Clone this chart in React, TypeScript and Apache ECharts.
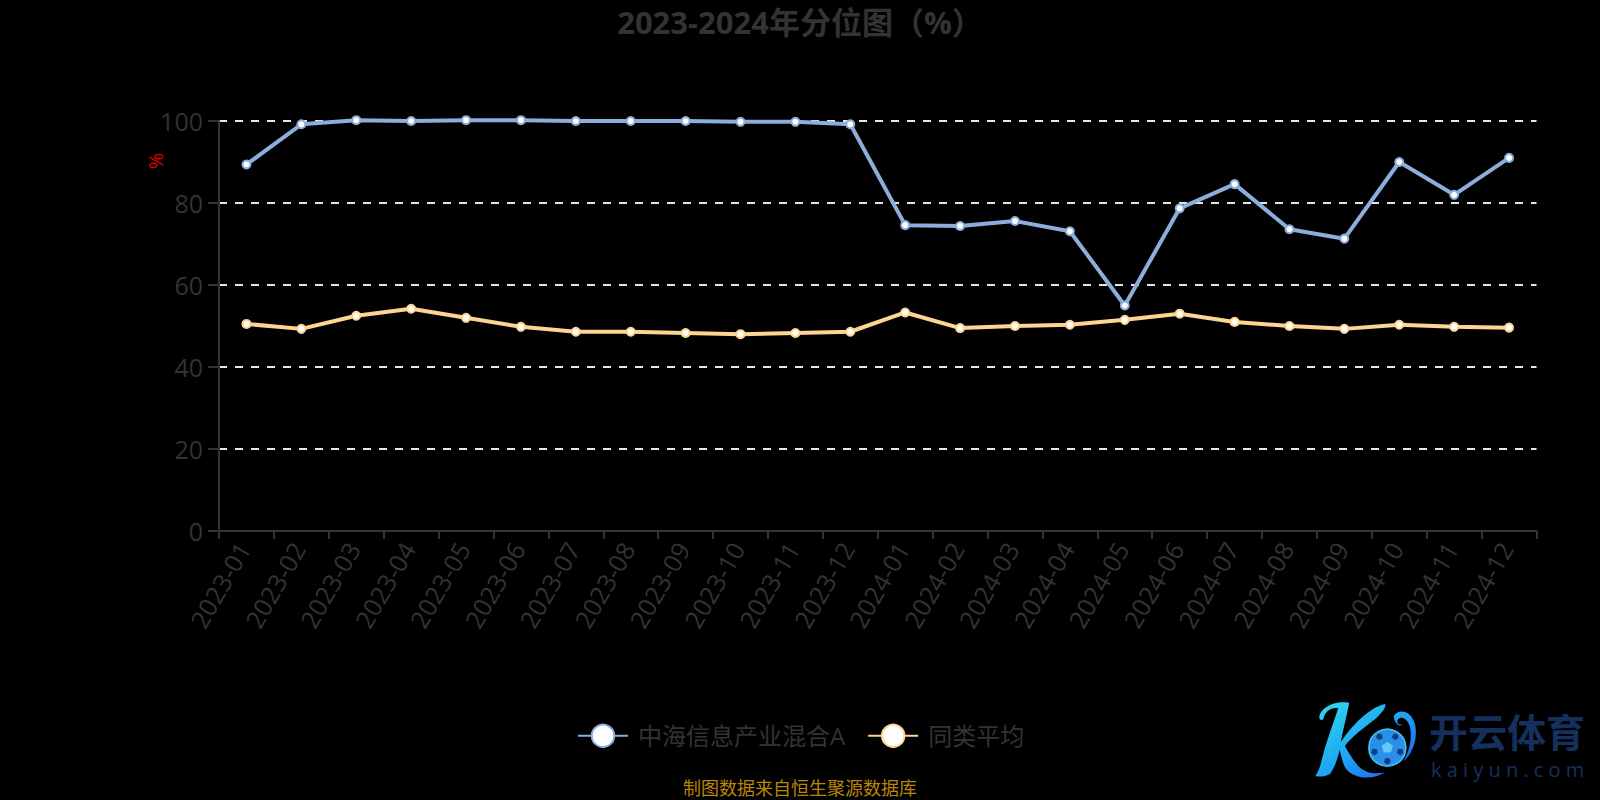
import React, { useEffect, useRef } from "react";
import * as echarts from "echarts";

const months = ["2023-01","2023-02","2023-03","2023-04","2023-05","2023-06","2023-07","2023-08","2023-09","2023-10","2023-11","2023-12","2024-01","2024-02","2024-03","2024-04","2024-05","2024-06","2024-07","2024-08","2024-09","2024-10","2024-11","2024-12"];
const fundValues = [89.4,99.2,100.2,100.0,100.2,100.2,100.0,100.0,100.0,99.8,99.8,99.2,74.6,74.4,75.6,73.1,55.0,78.7,84.6,73.6,71.3,90.0,82.0,91.0];
const peerValues = [50.5,49.3,52.5,54.2,52.0,49.8,48.6,48.6,48.3,48.0,48.3,48.6,53.3,49.5,50.0,50.3,51.5,53.0,51.0,50.0,49.3,50.3,49.8,49.6];
const fundName = "中海信息产业混合A";
const peerName = "同类平均";
const titleText = "2023-2024年分位图（%）";
const sourceText = "制图数据来自恒生聚源数据库";
const FONT = '"Open Sans", "Noto Sans CJK SC", sans-serif';

const kD = "M148 112 C150 85 190 60 238 68 C230 110 214 170 208 215 C200 250 188 272 180 282 C165 290 150 292 136 288 C146 275 152 255 158 230 C168 190 190 130 205 85 C190 80 165 90 160 118 C155 122 148 120 148 112 Z M345 72 C352 80 335 100 315 118 C285 142 245 170 225 198 C235 215 248 240 265 258 C285 278 310 284 345 278 C310 300 250 300 225 262 C215 240 212 215 205 198 C235 150 290 85 345 72 Z M372 108 C385 85 425 90 436 135 C445 180 425 225 400 245 C418 215 428 175 420 140 C412 115 395 108 385 118 C378 125 385 138 396 132 C392 145 372 130 372 108 Z";
echarts.graphic.registerShape("kLogoPath", echarts.graphic.extendPath(kD, {}) as any);

const pentagon = (cx: number, cy: number, r: number, rot: number) =>
  Array.from({ length: 5 }, (_, i) => {
    const a = rot + (i * Math.PI * 2) / 5;
    return [cx + r * Math.cos(a), cy + r * Math.sin(a)];
  });

export default function App() {
  const ref = useRef<HTMLDivElement>(null);
  useEffect(() => {
    document.body.style.margin = "0";
    document.body.style.background = "#000";
    const chart = echarts.init(ref.current!, undefined, { renderer: "svg" });
    const s = 1 / 3;
    const bx = 1270 + 352 * s;
    const by = 680 + 203 * s;
    const labelColor = "#333333";
    chart.setOption({
      animation: false,
      backgroundColor: "#000000",
      title: {
        text: titleText,
        left: "center",
        top: 1,
        textStyle: { color: "#333333", fontSize: 31, fontWeight: "bold", fontFamily: FONT },
      },
      legend: {
        bottom: 47,
        left: 572,
        itemWidth: 50,
        itemHeight: 28,
        itemGap: 22,
        lineStyle: { width: 2 },
        textStyle: { color: labelColor, fontSize: 24, fontFamily: FONT, padding: [0, 0, 0, 5] },
        data: [{ name: fundName }, { name: peerName }],
      },
      grid: { left: 219, right: 63.5, top: 121, bottom: 269 },
      xAxis: {
        type: "category",
        data: months,
        boundaryGap: true,
        axisLine: { show: true, lineStyle: { color: labelColor, width: 2 } },
        axisTick: { show: true, alignWithLabel: false, length: 8, lineStyle: { color: labelColor, width: 2 } },
        axisLabel: { color: labelColor, fontSize: 25, rotate: 60, interval: 0, margin: 8, padding: [0, 6, 0, 0], fontFamily: FONT },
      },
      yAxis: {
        type: "value",
        min: 0,
        max: 100,
        interval: 20,
        axisLine: { show: true, lineStyle: { color: labelColor, width: 2 } },
        axisTick: { show: true, length: 11, lineStyle: { color: labelColor, width: 2 } },
        axisLabel: { color: labelColor, fontSize: 25, margin: 16, fontFamily: FONT, padding: [0, 0, 18, 0] },
        splitLine: { show: true, lineStyle: { color: "#e6e6e6", type: [8, 8], width: 2 } },
      },
      series: [
        {
          name: fundName,
          type: "line",
          data: fundValues,
          clip: false,
          symbol: "circle",
          symbolSize: 8,
          showAllSymbol: true,
          lineStyle: { color: "#8caedd", width: 4 },
          itemStyle: { color: "#ffffff", borderColor: "#8caedd", borderWidth: 2 },
        },
        {
          name: peerName,
          type: "line",
          data: peerValues,
          clip: false,
          symbol: "circle",
          symbolSize: 8,
          showAllSymbol: true,
          lineStyle: { color: "#fdd592", width: 4 },
          itemStyle: { color: "#ffffff", borderColor: "#fdd592", borderWidth: 2 },
        },
      ],
      graphic: [
        {
          type: "text",
          x: 155,
          y: 161,
          rotation: Math.PI / 2,
          style: { text: "%", fill: "#dd0000", font: `20px ${FONT}`, textAlign: "center", textVerticalAlign: "middle" },
        },
        {
          type: "text",
          x: 800,
          y: 788,
          style: { text: sourceText, fill: "#b8860b", font: `18px ${FONT}`, lineHeight: 20, textAlign: "center", textVerticalAlign: "middle" },
        },
        {
          type: "kLogoPath",
          x: 1270,
          y: 680,
          scaleX: s,
          scaleY: s,
          style: {
            fill: new echarts.graphic.LinearGradient(0, 0, 1, 1, [
              { offset: 0, color: "#2fe0ea" },
              { offset: 0.5, color: "#1ea6f5" },
              { offset: 1, color: "#1f55f0" },
            ]),
          },
        },
        { type: "circle", shape: { cx: bx, cy: by, r: 18.5 }, style: { fill: "#2a8fe8", stroke: "#45c6f0", lineWidth: 1.5 } },
        { type: "polygon", shape: { points: pentagon(bx, by, 6, -Math.PI / 2) }, style: { fill: "#63c6f5" } },
        ...pentagon(bx, by, 13.5, Math.PI / 2).map((p) => ({
          type: "polygon",
          shape: { points: pentagon(p[0], p[1], 3.6, Math.PI / 2) },
          style: { fill: "#0f3d82" },
        })),
        {
          type: "text",
          x: 1429,
          y: 730,
          style: { text: "开云体育", fill: "#15305f", font: `bold 39px "Noto Sans CJK SC"`, lineHeight: 39, textVerticalAlign: "middle" },
        },
        {
          type: "text",
          x: 1431,
          y: 769,
          style: { text: "k a i y u n . c o m", fill: "#15305f", font: `20px ${FONT}`, lineHeight: 20, textVerticalAlign: "middle" },
        },
      ],
    });
    return () => chart.dispose();
  }, []);
  return <div ref={ref} style={{ width: 1600, height: 800, position: "fixed", left: 0, top: 0 }} />;
}
